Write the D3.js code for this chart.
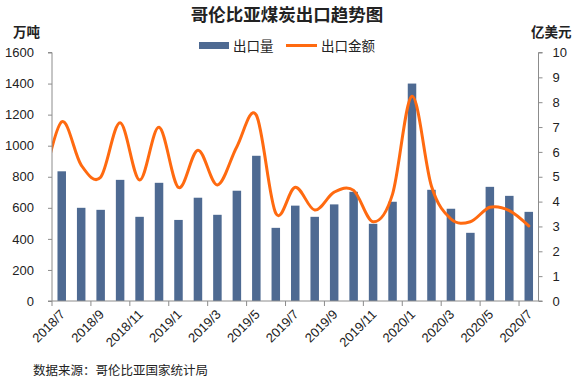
<!DOCTYPE html>
<html><head><meta charset="utf-8">
<script src="https://cdn.jsdelivr.net/npm/d3@7"></script>
<style>
html,body{margin:0;padding:0;background:#fff;}
svg{display:block;font-family:"Liberation Sans","Noto Sans CJK SC",sans-serif;}
</style></head>
<body>
<svg id="c" width="581" height="381"></svg>
<script>
const months = ["2018/7","2018/8","2018/9","2018/10","2018/11","2018/12","2019/1","2019/2","2019/3","2019/4","2019/5","2019/6","2019/7","2019/8","2019/9","2019/10","2019/11","2019/12","2020/1","2020/2","2020/3","2020/4","2020/5","2020/6","2020/7"];
const volume = [835,600,587,780,542,761,522,665,555,710,935,471,614,542,622,703,497,639,1400,716,594,439,735,677,574];
const value = [7.21,5.47,4.98,7.17,4.87,6.99,4.57,6.07,4.67,6.21,7.48,3.53,4.58,3.66,4.38,4.45,3.19,4.3,8.24,4.62,3.3,3.19,3.77,3.64,3.02];
const priorMonth = "2018/6";
const priorValue = 4.5;
const leftTicks = [0,200,400,600,800,1000,1200,1400,1600];
const rightTicks = [0,1,2,3,4,5,6,7,8,9,10];
const title = "哥伦比亚煤炭出口趋势图";
const seriesNames = ["出口量","出口金额"];
const leftUnit = "万吨", rightUnit = "亿美元";
const source = "数据来源：哥伦比亚国家统计局";

const svg = d3.select("#c");
const L = 52, R = 538.5, T = 52.5, B = 301;
const barColor = "#4e6a92", lineColor = "#ff6a10", axisColor = "#8c8c8c", textColor = "#222";

const x = d3.scaleBand().domain(months).range([L, R]).padding(0);
const step = x.step();
const cx = m => x(m) + step / 2;
const yL = d3.scaleLinear().domain([0,1600]).range([B, T]);
const yR = d3.scaleLinear().domain([0,10]).range([B, T]);

svg.append("defs").append("clipPath").attr("id","plot")
  .append("rect").attr("x", L).attr("y", 0).attr("width", R - L).attr("height", B);

const bw = 8.5;
svg.append("g").selectAll("rect").data(months).join("rect")
  .attr("x", (m) => cx(m) - bw/2)
  .attr("y", (m,i) => yL(volume[i]))
  .attr("width", bw)
  .attr("height", (m,i) => B - yL(volume[i]))
  .attr("fill", barColor);

const pts = [[cx(months[0]) - step, yR(priorValue)]].concat(months.map((m,i) => [cx(m), yR(value[i])]));
svg.append("path")
  .attr("clip-path","url(#plot)")
  .attr("d", d3.line().curve(d3.curveCatmullRom.alpha(0))(pts))
  .attr("fill","none").attr("stroke", lineColor).attr("stroke-width", 3)
  .attr("stroke-linejoin","round").attr("stroke-linecap","round");

const gL = svg.append("g").attr("transform", `translate(${L},0)`)
  .call(d3.axisLeft(yL).tickValues(leftTicks).tickSize(4).tickPadding(14).tickFormat(d3.format("d")));
gL.select(".domain").attr("stroke", axisColor).attr("d", `M-4,${T}H0V${B}H-4`);
gL.selectAll(".tick line").attr("stroke", axisColor);
gL.selectAll(".tick text").attr("fill", textColor).attr("font-size", 13);

const gR = svg.append("g").attr("transform", `translate(${R},0)`)
  .call(d3.axisRight(yR).tickValues(rightTicks).tickSize(4).tickPadding(10));
gR.select(".domain").attr("stroke", axisColor).attr("d", `M4,${T}H0V${B}H4`);
gR.selectAll(".tick line").attr("stroke", axisColor);
gR.selectAll(".tick text").attr("fill", textColor).attr("font-size", 13);

const gB = svg.append("g");
gB.append("line").attr("x1", L).attr("x2", R).attr("y1", B).attr("y2", B).attr("stroke", axisColor);
const tickMonths = months.filter((m,i) => i % 2 === 0);
gB.selectAll("line.t").data(tickMonths).join("line").attr("class","t")
  .attr("x1", m => x(m)).attr("x2", m => x(m)).attr("y1", B).attr("y2", B + 5).attr("stroke", axisColor);
gB.selectAll("text").data(tickMonths).join("text")
  .attr("transform", m => `translate(${cx(m) + 1},${B + 11}) rotate(-45)`)
  .attr("text-anchor","end").attr("dy","0.35em")
  .attr("font-size", 13).attr("fill", textColor).text(m => m);

svg.append("text").attr("x", 287).attr("y", 21).attr("text-anchor","middle")
  .attr("font-size", 17.5).attr("font-weight","bold").attr("fill", textColor).text(title);
svg.append("text").attr("x", 13).attr("y", 37).attr("font-size", 13.5).attr("font-weight","bold").attr("fill", textColor).text(leftUnit);
svg.append("text").attr("x", 531).attr("y", 37).attr("font-size", 13.5).attr("font-weight","bold").attr("fill", textColor).text(rightUnit);

const lg = svg.append("g");
lg.append("rect").attr("x", 199).attr("y", 42).attr("width", 30).attr("height", 7).attr("fill", barColor);
lg.append("text").attr("x", 233).attr("y", 50.5).attr("font-size", 13.5).attr("fill", textColor).text(seriesNames[0]);
lg.append("line").attr("x1", 286).attr("x2", 317).attr("y1", 45.5).attr("y2", 45.5).attr("stroke", lineColor).attr("stroke-width", 3);
lg.append("text").attr("x", 321).attr("y", 50.5).attr("font-size", 13.5).attr("fill", textColor).text(seriesNames[1]);

svg.append("text").attr("x", 33).attr("y", 375).attr("font-size", 12.5).attr("fill", textColor).text(source);
</script>
</body></html>
